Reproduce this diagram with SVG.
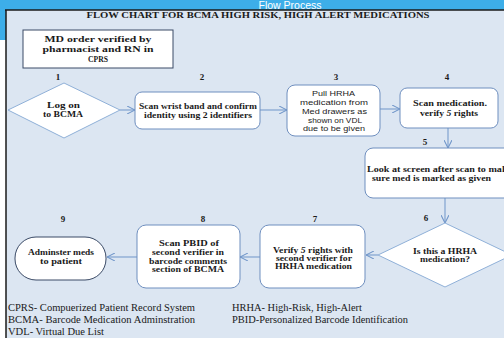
<svg xmlns="http://www.w3.org/2000/svg" width="504" height="338" viewBox="0 0 504 338">
<defs>
<style>
.box{fill:#fff;stroke:#6f8fbf;stroke-width:1}
.c{stroke:#6f95c9;stroke-width:1;fill:none;marker-end:url(#a)}
</style>
<marker id="a" viewBox="0 0 10 10" refX="10" refY="5" markerWidth="8" markerHeight="8" orient="auto" markerUnits="userSpaceOnUse">
<path d="M0,0 L10,5 L0,10" fill="none" stroke="#6f95c9" stroke-width="1.3"/>
</marker>
</defs>
<rect x="0" y="0" width="504" height="338" fill="#ffffff"/>
<rect x="0" y="0" width="504" height="10" fill="#3daee9"/>
<rect x="0" y="0" width="6" height="40" fill="#3daee9"/>
<text x="290" y="8.5" font-family="Liberation Sans,Arial,sans-serif" font-size="10.5" fill="#ffffff" text-anchor="middle">Flow Process</text>
<rect x="6" y="10" width="498" height="328" fill="#dce6f2"/>
<line x1="5" y1="10" x2="504" y2="10" stroke="#1a1a1a" stroke-width="1.5"/>
<line x1="6" y1="10" x2="6" y2="338" stroke="#1a1a1a" stroke-width="1.5"/>
<text x="258" y="18" font-family="Liberation Serif,Times New Roman,serif" font-weight="bold" font-size="8.6" fill="#1a1a1a" text-anchor="middle" textLength="343" lengthAdjust="spacingAndGlyphs">FLOW CHART FOR BCMA HIGH RISK, HIGH ALERT MEDICATIONS</text>

<g id="connectors">
<line class="c" x1="120" y1="110" x2="135" y2="110"/>
<line class="c" x1="260" y1="110" x2="287" y2="110"/>
<line class="c" x1="380" y1="109" x2="400" y2="109"/>
<line class="c" x1="448" y1="128" x2="448" y2="148"/>
<line class="c" x1="445" y1="198" x2="445" y2="223"/>
<line class="c" x1="378" y1="255" x2="366" y2="255"/>
<line class="c" x1="260" y1="257" x2="240" y2="257"/>
<line class="c" x1="137" y1="257" x2="107" y2="257"/>
</g>

<g font-family="Liberation Serif,Times New Roman,serif" font-weight="bold" font-size="7.6" fill="#1a1a1a" text-anchor="middle">
<g id="node0">
<rect x="23" y="30" width="150" height="38" fill="#fff" stroke="#3a4a66" stroke-width="1"/>
<text x="98" y="41.5" font-size="8" textLength="107" lengthAdjust="spacingAndGlyphs">MD order verified by</text>
<text x="98" y="52" font-size="8" textLength="111" lengthAdjust="spacingAndGlyphs">pharmacist and RN in</text>
<text x="98" y="62" font-size="8" textLength="20" lengthAdjust="spacingAndGlyphs">CPRS</text>
</g>
<g id="node1">
<text x="58" y="80" font-size="9">1</text>
<polygon points="64,83 120,110 64,138 8,110" fill="#fff" stroke="#8fb0d8"/>
<text x="63.5" y="108" textLength="33" lengthAdjust="spacingAndGlyphs">Log on</text>
<text x="63" y="117" textLength="40" lengthAdjust="spacingAndGlyphs">to BCMA</text>
</g>
<g id="node2">
<text x="202" y="80" font-size="9">2</text>
<rect class="box" x="135" y="92" width="125" height="37" rx="7"/>
<text x="198" y="109" textLength="118" lengthAdjust="spacingAndGlyphs">Scan wrist band and confirm</text>
<text x="198" y="117.5" textLength="108" lengthAdjust="spacingAndGlyphs">identity using 2 identifiers</text>
</g>
<g id="node3">
<text x="336" y="80" font-size="9">3</text>
<rect class="box" x="287" y="85" width="93" height="51" rx="8"/>
<g font-family="Liberation Sans,Arial,sans-serif" font-weight="normal" font-size="7.6">
<text x="333.5" y="96" textLength="43" lengthAdjust="spacingAndGlyphs">Pull HRHA</text>
<text x="334" y="105" textLength="68" lengthAdjust="spacingAndGlyphs">medication from</text>
<text x="334.5" y="114" textLength="65" lengthAdjust="spacingAndGlyphs">Med drawers as</text>
<text x="335" y="122.5" textLength="54" lengthAdjust="spacingAndGlyphs">shown on VDL</text>
<text x="334" y="131" textLength="62" lengthAdjust="spacingAndGlyphs">due to be given</text>
</g>
</g>
<g id="node4">
<text x="447" y="80" font-size="9">4</text>
<rect class="box" x="400" y="88" width="98" height="40" rx="7"/>
<text x="450" y="106" textLength="74" lengthAdjust="spacingAndGlyphs">Scan medication.</text>
<text x="449" y="116" textLength="58" lengthAdjust="spacingAndGlyphs">verify <tspan font-style="italic">5</tspan> rights</text>
</g>
<g id="node5">
<text x="425" y="145" font-size="9">5</text>
<rect class="box" x="365" y="148" width="150" height="50" rx="8"/>
<text x="367" y="172" text-anchor="start" textLength="145" lengthAdjust="spacingAndGlyphs">Look at screen after scan to make</text>
<text x="431.5" y="181" textLength="119" lengthAdjust="spacingAndGlyphs">sure med is marked  as given</text>
</g>
<g id="node6">
<text x="426" y="221" font-size="9">6</text>
<polygon points="445,223 512,255 445,287 378,255" fill="#fff" stroke="#8fb0d8"/>
<text x="445" y="254" textLength="64" lengthAdjust="spacingAndGlyphs">Is this a HRHA</text>
<text x="445" y="262" textLength="50" lengthAdjust="spacingAndGlyphs">medication?</text>
</g>
<g id="node7">
<text x="315" y="222" font-size="9">7</text>
<rect class="box" x="260" y="225" width="105" height="63" rx="9"/>
<text x="313" y="253" textLength="80" lengthAdjust="spacingAndGlyphs">Verify <tspan font-style="italic">5</tspan> rights with</text>
<text x="314" y="261" textLength="76" lengthAdjust="spacingAndGlyphs">second verifier for</text>
<text x="313.5" y="269" textLength="77" lengthAdjust="spacingAndGlyphs">HRHA medication</text>
</g>
<g id="node8">
<text x="203" y="222" font-size="9">8</text>
<rect class="box" x="137" y="225" width="103" height="63" rx="9"/>
<text x="189" y="246" textLength="60" lengthAdjust="spacingAndGlyphs">Scan PBID  of</text>
<text x="188" y="255" textLength="72" lengthAdjust="spacingAndGlyphs">second verifier  in</text>
<text x="188" y="264" textLength="78" lengthAdjust="spacingAndGlyphs">barcode comments</text>
<text x="188" y="272" textLength="72" lengthAdjust="spacingAndGlyphs">section of BCMA</text>
</g>
<g id="node9">
<text x="63" y="222" font-size="9">9</text>
<rect x="15" y="237" width="91" height="43" rx="21" fill="#fff" stroke="#3a4a66"/>
<text x="61" y="255" textLength="66" lengthAdjust="spacingAndGlyphs">Adminster meds</text>
<text x="61" y="263.5" textLength="42" lengthAdjust="spacingAndGlyphs">to patient</text>
</g>
</g>

<g id="legend" font-family="Liberation Serif,Times New Roman,serif" font-size="9.6" fill="#1a1a1a">
<text x="8" y="311" textLength="187" lengthAdjust="spacingAndGlyphs">CPRS- Compuerized Patient Record System</text>
<text x="8" y="323" textLength="187" lengthAdjust="spacingAndGlyphs">BCMA- Barcode Medication Adminstration</text>
<text x="8" y="335" textLength="96" lengthAdjust="spacingAndGlyphs">VDL- Virtual Due List</text>
<text x="232" y="311" textLength="130" lengthAdjust="spacingAndGlyphs">HRHA- High-Risk, High-Alert</text>
<text x="232" y="323" textLength="176" lengthAdjust="spacingAndGlyphs">PBID-Personalized Barcode Identification</text>
</g>
</svg>
